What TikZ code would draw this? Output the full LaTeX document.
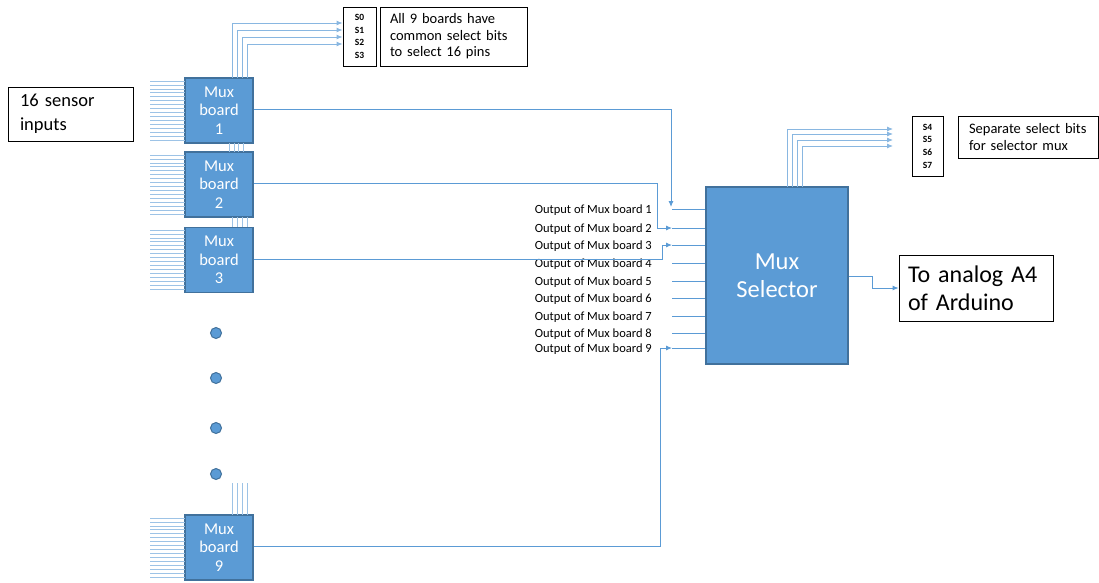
\documentclass[tikz,border=0pt]{standalone}
\usepackage{fontspec}
\setmainfont{Carlito}
\usetikzlibrary{arrows.meta,calc}
\definecolor{boxblue}{HTML}{5B9BD5}
\definecolor{boxedge}{HTML}{41719C}
\definecolor{wire}{HTML}{5B9BD5}
\definecolor{inwire}{HTML}{9DC3E6}
\tikzset{
  muxbox/.style={draw=boxedge, line width=1.5pt, fill=boxblue, text=white, align=center,
    minimum width=68pt, minimum height=65pt, inner sep=0pt, font=\fontsize{16.5}{18.7}\selectfont},
  selbox/.style={draw=boxedge, line width=1.5pt, fill=boxblue, text=white, align=center,
    minimum width=142pt, minimum height=177pt, inner sep=0pt, font=\fontsize{24.5}{28.5}\selectfont},
  textbox/.style={draw=black, line width=0.8pt, fill=white, align=left, inner sep=0pt},
  wireline/.style={draw=wire, line width=0.9pt},
  inline/.style={draw=inwire, line width=0.8pt},
  arr/.style={-{Latex[length=6pt,width=5pt]}},
  dotnode/.style={circle, draw=boxedge, line width=1pt, fill=boxblue, minimum size=11pt, inner sep=0pt},
  outlabel/.style={anchor=east, inner sep=0pt, font=\fontsize{12.5}{14}\selectfont},
  sbits/.style={font=\fontsize{9.5}{12.7}\selectfont\bfseries, align=center, inner sep=0pt}
}
\begin{document}
\begin{tikzpicture}[x=1pt,y=-1pt]
\useasboundingbox (0,0) rectangle (1099,582);

% mux boards
\node[muxbox] (b1) at (219,110.5) {Mux\\board\\1};
\node[muxbox] (b2) at (219,184.5) {Mux\\board\\2};
\node[muxbox] (b3) at (219,260) {Mux\\board\\3};
\node[muxbox] (b9) at (219,547.5) {Mux\\board\\9};

% input lines
\foreach \b/\t in {b1/78,b2/152,b3/227,b9/515}{
  \foreach \i in {0,...,15}{
    \draw[inline] (150,\t+3+\i*3.95) -- (185,\t+3+\i*3.95);
  }
}

% sensor label
\node[textbox, minimum width=125pt, minimum height=54pt, text width=101pt, font=\fontsize{18.5}{24}\selectfont] (sens) at (70.5,114) {16 sensor\\inputs};

% dots
\foreach \y/\n in {333/d1,378/d2,428/d3,474/d4}{
  \node[dotnode] (\n) at (216,\y) {};
}

% vertical select buses between boards
\foreach \x in {229.5,234,238.5,243}{
  \draw[inline] (\x,143) -- (\x,152);
}
\foreach \x in {232,237,242,247}{
  \draw[inline] (\x,217) -- (\x,227);
  \draw[inline] (\x,483) -- (\x,515);
}

% S0-S3 box
\node[textbox, minimum width=33pt, minimum height=59pt, align=center] (sbox) at (359.5,36.5) {};
\node[sbits] at (sbox) {S0\\S1\\S2\\S3};
\node[textbox, minimum width=147pt, minimum height=59pt, text width=127pt, font=\fontsize{14.5}{16.5}\selectfont] (sinfo) at (453.5,36.5) {All 9 boards have\\common select bits\\to select 16 pins};

% select lines from board 1
\foreach \x/\y in {232/23,237/30,242/37,247/44}{
  \draw[wireline, draw=inwire!70!wire, arr] (\x,78) -- (\x,\y) -- (sbox.west |- 0,\y);
}

% selector
\node[selbox] (sel) at (777,275.5) {Mux\\Selector};

% selector select lines
\node[textbox, minimum width=31pt, minimum height=60pt] (s2box) at (927.5,146) {};
\node[sbits] at (s2box) {S4\\S5\\S6\\S7};
\node[textbox, minimum width=140pt, minimum height=42pt, text width=118pt, font=\fontsize{14.5}{17}\selectfont] (s2info) at (1028,137) {Separate select bits\\for selector mux};
\foreach \x/\y in {787/129,792/134,797/140,802/146}{
  \draw[wireline, draw=inwire!70!wire, arr] (\x,187) -- (\x,\y) -- (893,\y);
}

% output labels and input stubs
\foreach \i/\y in {1/209,2/228,3/245,4/263,5/281,6/298,7/316,8/333,9/348}{
  \node[outlabel] (o\i) at (652,\y+1) {Output of Mux board \i};
  \coordinate (in\i) at (672,\y);
  \draw[wireline] (in\i) -- (sel.west |- in\i);
}

% connectors from boards
\draw[wireline, arr] (b1.east |- 0,109) -- (671,109) -- (671,207);
\draw[wireline, arr] (b2.east |- 0,183) -- (657,183) -- (657,228) -- (in2);
\draw[wireline, arr] (b3.east |- 0,259) -- (662,259) -- (662,245) -- (in3);
\draw[wireline, arr] (b9.east |- 0,546) -- (660,546) -- (660,348) -- (in9);

% output to arduino
\node[textbox, minimum width=154pt, minimum height=66pt, text width=136pt, font=\fontsize{24}{28}\selectfont] (ard) at (976,288) {To analog A4\\of Arduino};
\draw[wireline, arr] (sel.east |- 0,276) -- (872,276) -- (872,288) -- (ard.west);

\end{tikzpicture}
\end{document}
